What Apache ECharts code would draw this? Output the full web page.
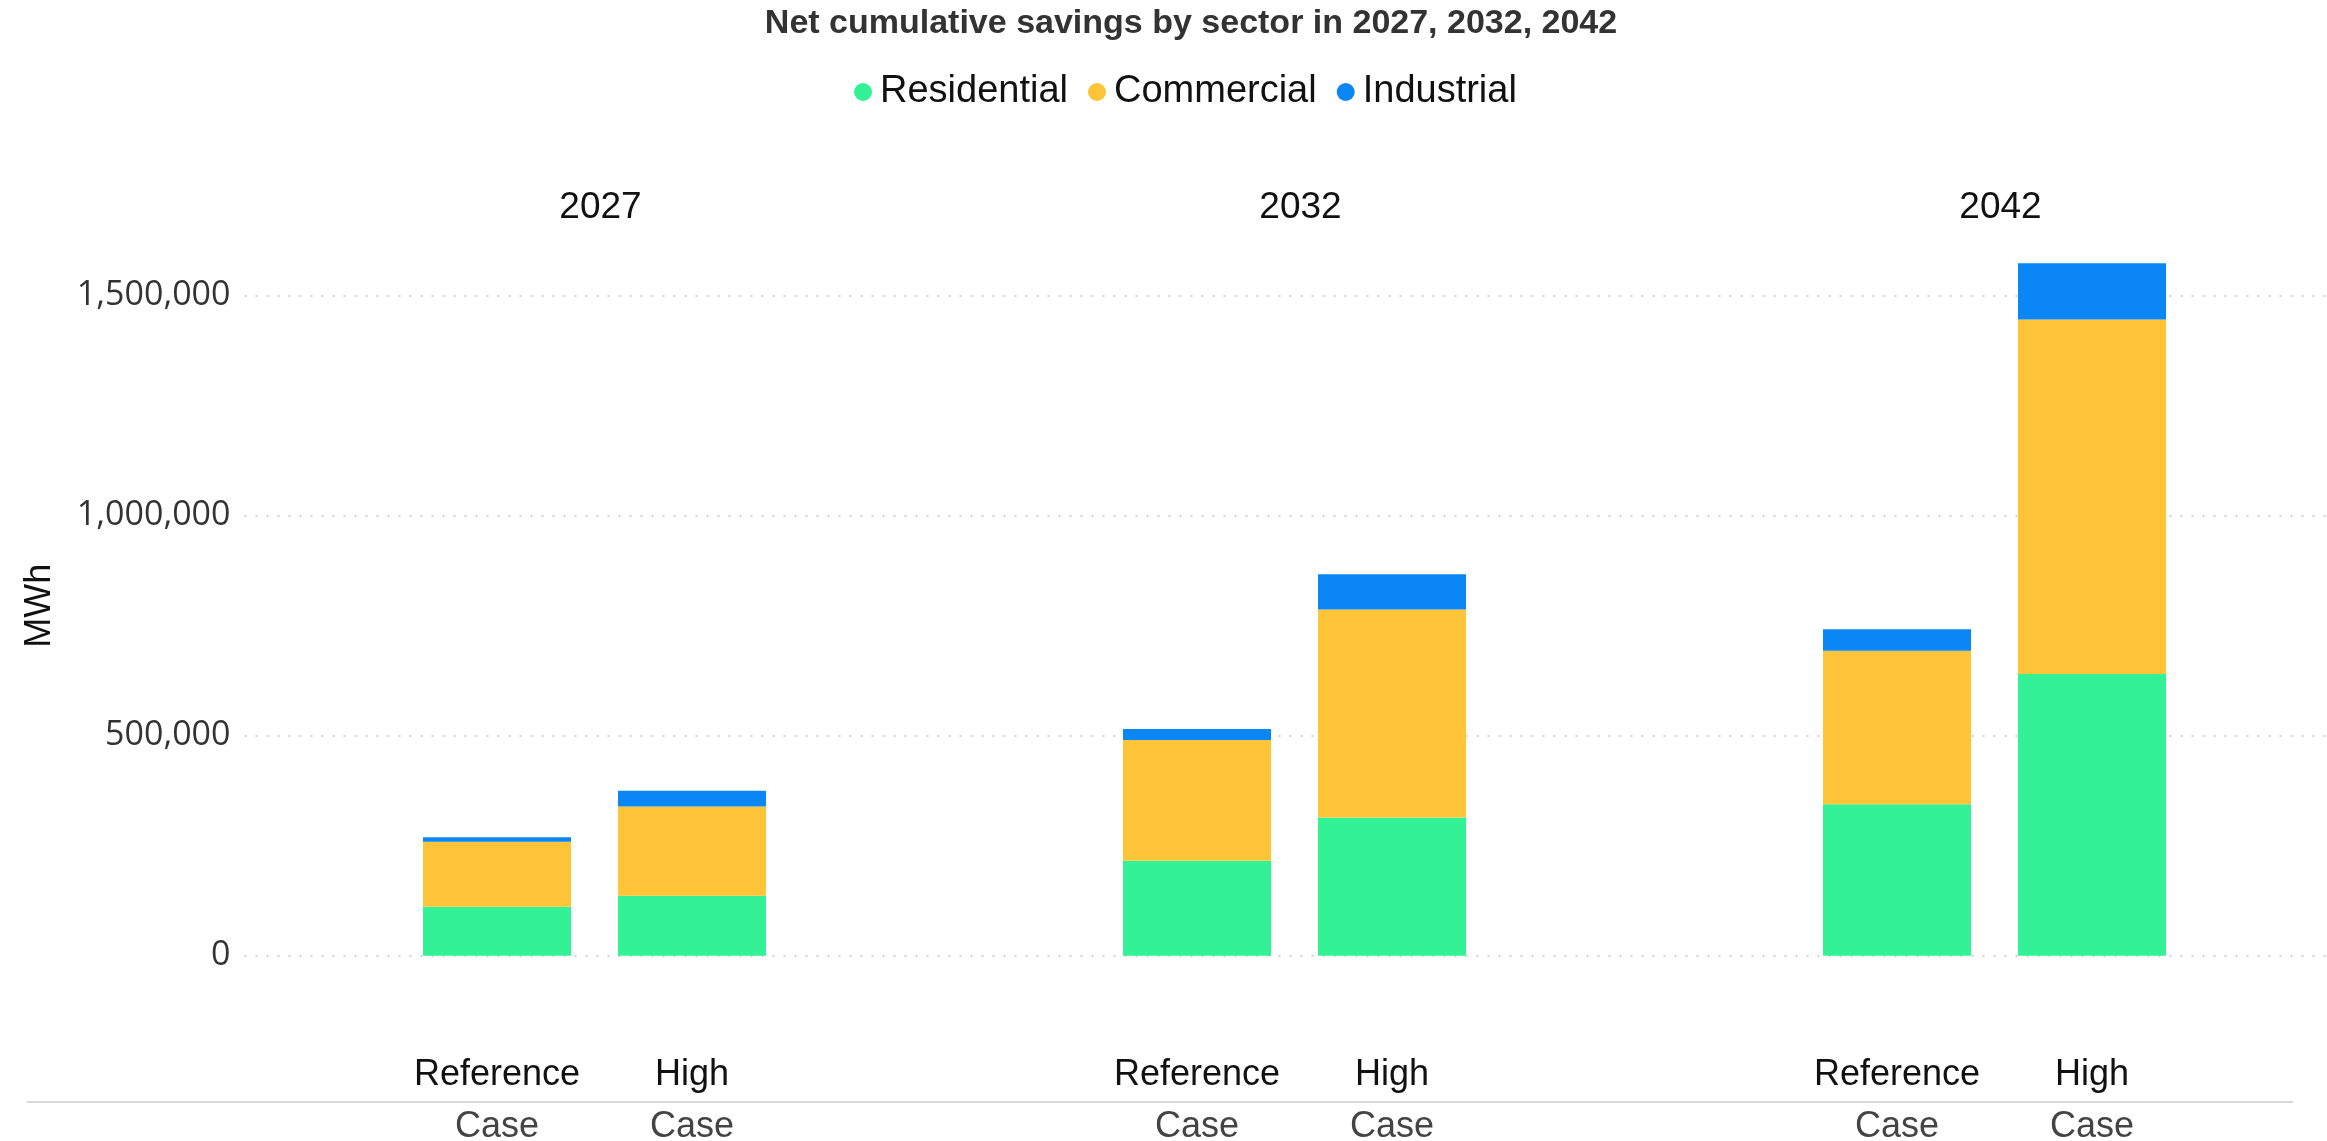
<!DOCTYPE html>
<html><head><meta charset="utf-8">
<script src="https://cdn.jsdelivr.net/npm/echarts@6/dist/echarts.min.js"></script>
<style>html,body{margin:0;padding:0;background:#fff}#c{width:2327px;height:1141px}</style>
</head><body><div id="c"></div>
<script>
const years = ['2027', '2032', '2042'];
const cases = ['Reference Case', 'High Case'];
const sectors = ['Residential', 'Commercial', 'Industrial'];
// order: 2027 Ref, 2027 High, 2032 Ref, 2032 High, 2042 Ref, 2042 High
const residential = [111000, 136000, 216000, 314000, 344000, 640000];
const commercial  = [148000, 203000, 274000, 473000, 349000, 806000];
const industrial  = [10000, 36000, 25000, 80000, 49000, 128000];
const yTicks = [0, 500000, 1000000, 1500000];

const sectorValues = [residential, commercial, industrial];
const colors = ['#33F195', '#FFC437', '#0A87F5'];
const W = 2327;
const plotLeft = 244.5, panelW = 700, gTop = 229.7, gBottom = 185.3;
const yMax = 1650000;

const grid = [{ left: plotLeft, right: W - (plotLeft + 3 * panelW), top: gTop, bottom: gBottom, outerBoundsMode: 'none', containLabel: false }];
const xAxis = [{ gridIndex: 0, type: 'category', data: [''], show: false }];
const yAxis = [{
  gridIndex: 0, type: 'value', min: 0, max: yMax, interval: 500000,
  name: 'MWh', nameLocation: 'middle', nameRotate: 90, nameGap: 186,
  nameTextStyle: { fontSize: 36, fontFamily: 'Liberation Sans', color: '#111', padding: [0, 26, 0, 0] },
  axisLine: { show: false }, axisTick: { show: false },
  axisLabel: {
    margin: 14, fontSize: 34, fontFamily: 'Open Sans', color: '#333', showMaxLabel: false,
    formatter: v => yTicks.includes(v) ? v.toLocaleString('en-US') : ''
  },
  splitLine: { show: true, showMaxLine: false, lineStyle: { color: '#d2d2d2', width: 2, type: [2, 9] } }
}];
const series = [];
years.forEach((yr, i) => {
  grid.push({ left: plotLeft + i * panelW + 155, width: 390, top: gTop, bottom: gBottom, outerBoundsMode: 'none', containLabel: false });
  xAxis.push({
    gridIndex: i + 1, type: 'category', data: cases, position: 'bottom',
    axisLine: { show: false }, axisTick: { show: false },
    axisLabel: {
      margin: 93, interval: 0, hideOverlap: false,
      formatter: v => { const p = v.split(' '); return '{a|' + p[0] + '}\n{b|' + p[1] + '}'; },
      rich: {
        a: { fontSize: 36, fontFamily: 'Liberation Sans', color: '#111', lineHeight: 52 },
        b: { fontSize: 36, fontFamily: 'Liberation Sans', color: '#444', lineHeight: 52 }
      }
    }
  });
  xAxis.push({
    gridIndex: i + 1, type: 'category', data: [yr], position: 'top',
    axisLine: { show: false }, axisTick: { show: false },
    axisLabel: { margin: 3, fontSize: 37, fontFamily: 'Liberation Sans', color: '#111', padding: [0, 0, 0, 12] }
  });
  yAxis.push({ gridIndex: i + 1, type: 'value', min: 0, max: yMax, show: false });
  sectors.forEach((s, k) => {
    series.push({
      type: 'bar', name: s, xAxisIndex: 1 + 2 * i, yAxisIndex: i + 1, stack: 'p' + i,
      barWidth: 148, itemStyle: { color: colors[k] }, emphasis: { disabled: true },
      data: sectorValues[k].slice(2 * i, 2 * i + 2)
    });
  });
});

const chart = echarts.init(document.getElementById('c'), null, { renderer: 'canvas' });
chart.setOption({
  animation: false,
  backgroundColor: '#fff',
  color: colors,
  title: {
    text: 'Net cumulative savings by sector in 2027, 2032, 2042',
    left: 1186, textAlign: 'center', top: 2,
    textStyle: { fontSize: 34, fontWeight: 'bold', fontFamily: 'Liberation Sans', color: '#333' }
  },
  legend: {
    data: sectors, icon: 'circle', left: 849, top: 68, itemWidth: 18, itemHeight: 18, itemGap: 20,
    textStyle: { fontSize: 38, fontFamily: 'Liberation Sans', color: '#111', padding: [0, 0, 0, 3] }
  },
  grid, xAxis, yAxis, series,
  graphic: [{
    type: 'line', shape: { x1: 27, y1: 1102, x2: 2293, y2: 1102 },
    style: { stroke: '#d9d9d9', lineWidth: 2 }, silent: true
  }]
});
</script></body></html>
